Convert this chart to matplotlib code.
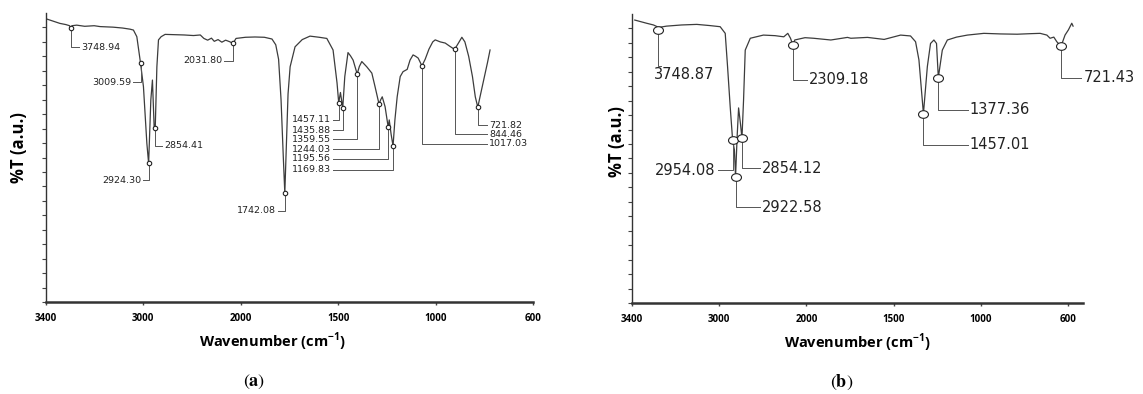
import numpy as np
import matplotlib.pyplot as plt
from matplotlib.markers import MarkerStyle
from matplotlib.transforms import Affine2D

plt.rcParams['font.family'] = ['Open Sans', 'DejaVu Sans']

# spectrum (a)
wn_a = [4000, 3862, 3800, 3760, 3748.94, 3735, 3685, 3600, 3500, 3438, 3300, 3200, 3120, 3085, 3049,
        3009.59, 2979, 2943, 2924.30, 2901, 2884, 2866, 2854.41, 2837, 2820, 2792, 2750, 2650, 2550,
        2450, 2378, 2340, 2300, 2260, 2230, 2190, 2150, 2110, 2070, 2031.80, 2000, 1950, 1900, 1850,
        1810, 1790, 1775, 1762, 1750, 1742.08, 1735, 1725, 1714, 1688, 1650, 1609, 1560, 1520, 1487,
        1466, 1457.11, 1448, 1435.88, 1425, 1408, 1395, 1381, 1359.55, 1348, 1335, 1309, 1282, 1265,
        1244.03, 1235, 1227, 1212, 1195.56, 1190, 1180, 1169.83, 1160, 1148, 1132, 1117, 1095, 1080,
        1064, 1050, 1037, 1017.03, 1000, 980, 960, 947, 920, 894, 870, 844.46, 825, 806, 790, 770,
        750, 735, 721.82, 710, 690, 670, 657]
t_a = [97.9, 96.4, 96.0, 95.6, 94.7, 95.6, 95.8, 95.4, 95.6, 95.3, 95.1, 94.8, 94.4, 94.1, 91.8,
       82.6, 74.5, 54.9, 48.0, 69.9, 76.8, 60.7, 60.1, 81.4, 90.7, 91.8, 92.6, 92.5, 92.4,
       92.2, 92.4, 91.2, 90.6, 91.3, 90.2, 90.8, 89.9, 90.6, 90.1, 89.5, 91.2, 91.6, 91.7, 91.6,
       91.0, 89.0, 84.0, 70.0, 50.0, 37.7, 52.0, 72.0, 81.4, 88.3, 90.8, 92.0, 91.6, 91.2, 87.2,
       75.8, 68.9, 72.5, 67.1, 78.0, 86.3, 85.2, 83.7, 78.9, 81.5, 83.2, 81.4, 79.2, 74.5,
       68.5, 70.0, 71.0, 67.6, 60.5, 63.0, 58.0, 54.0, 63.0, 71.0, 78.0, 79.7, 80.5, 83.7,
       85.5, 85.0, 84.4, 81.7, 84.0, 87.5, 90.0, 90.7, 90.0, 89.6, 88.5, 87.4, 89.5, 91.6, 90.0, 85.0,
       78.0, 71.0, 67.4, 71.0, 77.0, 83.0, 87.2]

# spectrum (b)
wn_b = [4000, 3874, 3800, 3760, 3748.87, 3735, 3660, 3500, 3337, 3200, 3087, 3033, 3008, 2980,
        2954.08, 2935, 2922.58, 2905, 2890, 2870, 2854.12, 2837, 2819, 2765, 2625, 2500, 2407, 2364,
        2335, 2309.18, 2290, 2263, 2180, 2088, 1952, 1863, 1845, 1756, 1667, 1579, 1526, 1499, 1481,
        1457.01, 1436, 1419, 1401, 1387, 1377.36, 1356, 1329, 1280, 1222, 1134, 1045, 956, 880, 833,
        797, 780, 760, 744, 721.43, 700, 682, 664, 657]
t_b = [97.9, 96.8, 96.2, 95.6, 94.4, 95.4, 95.8, 96.2, 96.4, 96.0, 95.6, 93.3, 81.8, 68.0,
       56.4, 53.0, 43.7, 58.0, 67.5, 62.0, 57.0, 70.2, 87.5, 91.6, 92.7, 92.5, 92.1, 93.3,
       91.6, 89.2, 91.0, 91.2, 91.8, 91.6, 91.0, 91.9, 91.6, 91.9, 91.2, 92.7, 92.4, 90.4, 84.1,
       65.5, 81.8, 89.8, 91.0, 89.8, 78.0, 87.5, 91.0, 92.0, 92.7, 93.3, 93.1, 93.0, 93.2, 93.3,
       92.7, 91.6, 92.0, 90.4, 88.8, 92.7, 94.5, 96.8, 95.8]

tick_labels = ['3400', '3000', '2000', '1500', '1000', '600']

peaks_a = [3748.94, 3009.59, 2924.30, 2854.41, 2031.80, 1742.08, 1457.11, 1435.88, 1359.55,
           1244.03, 1195.56, 1169.83, 1017.03, 844.46, 721.82]
peaks_b = [3748.87, 2954.08, 2922.58, 2854.12, 2309.18, 1457.01, 1377.36, 721.43]

# label layout: (leader end x, leader y, ha)
lay_a = [(3660, 88.2, 'left'), (3088, 76.1, 'right'), (2982, 42.2, 'right'), (2781, 54.0, 'left'),
         (2127, 83.4, 'right'), (1778, 31.5, 'right'), (1487, 63.0, 'right'), (1487, 59.5, 'right'),
         (1487, 56.4, 'right'), (1487, 52.9, 'right'), (1487, 49.5, 'right'), (1487, 45.7, 'right'),
         (674, 54.7, 'left'), (674, 58.1, 'left'), (674, 61.2, 'left')]
lay_b = [(3720, 82.0, 'left'), (3115, 46.0, 'right'), (2665, 33.2, 'left'), (2665, 46.7, 'left'),
         (2160, 77.2, 'left'), (1220, 54.7, 'left'), (1220, 66.8, 'left'), (612, 77.9, 'left')]


def fwd(w):
    w = np.asarray(w, float)
    return np.where(w >= 2000, w, 2 * w - 2000)


def inv(u):
    u = np.asarray(u, float)
    return np.where(u >= 2000, u, (u + 2000) / 2)


def panel(ax, wn, t, peaks, lay, xlim, tick_span, fs, ms, ellipse):
    ax.set_xscale('function', functions=(fwd, inv))
    ax.plot(wn, t, color='#3c3c3c', lw=0.9)
    ax.set_xlim(*xlim)
    ax.set_ylim(0, 100)
    u0, u1 = fwd(xlim[0]), fwd(xlim[1])
    ticks = inv(u0 + np.linspace(0, tick_span, 6) * (u1 - u0))
    ax.set_xticks(ticks)
    ax.set_xticklabels(tick_labels, fontsize=7, fontweight='bold')
    ax.xaxis.set_minor_locator(plt.NullLocator())
    ax.set_yticks(np.arange(0, 100, 5))
    ax.set_yticklabels([])
    ax.tick_params(axis='y', length=3, width=0.8, color='#444')
    ax.tick_params(axis='x', length=2, width=1, color='#444', pad=6)
    for s in ['top', 'right']:
        ax.spines[s].set_visible(False)
    ax.spines['left'].set_linewidth(1.0)
    ax.spines['left'].set_color('#333')
    ax.spines['bottom'].set_linewidth(1.8)
    ax.spines['bottom'].set_color('#333')
    ty = np.interp(peaks, wn[::-1], t[::-1])
    for i, p in enumerate(peaks):
        lx, ly, ha = lay[i]
        ax.plot([p, p, lx], [ty[i], ly, ly], color='#555', lw=0.7, zorder=2, clip_on=False)
        if ellipse and i == 0:
            ax.annotate('%.2f' % p, (p, ly), xytext=(-3, -1), textcoords='offset points',
                        ha='left', va='top', fontsize=fs, color='#222', family='DejaVu Sans',
                        annotation_clip=False)
        else:
            ax.annotate('%.2f' % p, (lx, ly), xytext=(1.5 if ha == 'left' else -1.5, 0),
                        textcoords='offset points', ha=ha, va='center', fontsize=fs, color='#222',
                        family='DejaVu Sans', annotation_clip=False)
    if ellipse:
        m = MarkerStyle('o', transform=Affine2D().scale(1.3, 1.0))
    else:
        m = 'o'
    ax.plot(peaks, ty, ls='none', marker=m, ms=ms, mfc='white', mec='#222', mew=0.8, zorder=3)


fig = plt.figure(figsize=(11.43, 3.94), dpi=100)
ax1 = fig.add_axes([0.0402, 0.2335, 0.4261, 0.7335])
ax2 = fig.add_axes([0.5529, 0.231, 0.3946, 0.7335])

panel(ax1, np.array(wn_a), np.array(t_a), peaks_a, lay_a, (4010, 430), 1.0, 6.8, 3.2, False)
panel(ax2, np.array(wn_b), np.array(t_b), peaks_b, lay_b, (4030, 604), 0.967, 10.5, 5.5, True)

for ax, xl, yx, yy in [(ax1, 0.466, -0.055, 0.535), (ax2, 0.5, -0.033, 0.558)]:
    ax.text(xl, -0.138, r'Wavenumber (cm$^{\mathregular{-1}}$)', transform=ax.transAxes,
            ha='center', va='center', fontsize=10.5, fontweight='bold')
    ax.text(yx, yy, '%T (a.u.)', transform=ax.transAxes, ha='center', va='center', rotation=90,
            fontsize=12, fontweight='bold')

fig.text(254 / 1143, 1 - 382 / 394, r'$(\mathbf{a})$', math_fontfamily='stix', fontsize=13,
         ha='center', va='center')
fig.text(842 / 1143, 1 - 382 / 394, r'$(\mathbf{b})$', math_fontfamily='stix', fontsize=13,
         ha='center', va='center')

fig.savefig('out.png', dpi=100)
